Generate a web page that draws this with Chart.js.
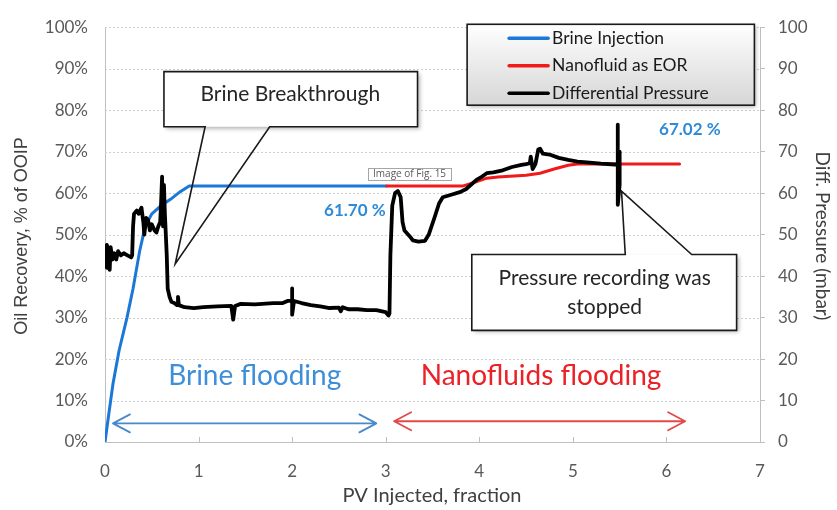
<!DOCTYPE html>
<html>
<head>
<meta charset="utf-8">
<script src="https://cdn.jsdelivr.net/npm/chart.js@4.4.1/dist/chart.umd.min.js"></script>
<style>
  html, body { margin: 0; padding: 0; background: #ffffff; }
  #wrap { width: 837px; height: 510px; }
</style>
</head>
<body>
<div id="wrap"><canvas id="c" width="837" height="510"></canvas></div>
<script>
// Axis ticks
const pvTicks = [0, 1, 2, 3, 4, 5, 6, 7];
const recoveryTicks = [0, 10, 20, 30, 40, 50, 60, 70, 80, 90, 100];
const pressureTicks = [0, 10, 20, 30, 40, 50, 60, 70, 80, 90, 100];

// Series names
const seriesNames = ['Brine Injection', 'Nanofluid as EOR', 'Differential Pressure'];

// Final recoveries (% OOIP) at the end of each stage
const brineFinal = 61.70;
const nanoFinal = 67.02;

// Oil recovery during brine injection (PV injected, % OOIP)
const brinePV = [0, 0.03, 0.085, 0.15, 0.235, 0.3, 0.37, 0.43, 0.5, 0.6, 0.7, 0.8, 0.9, 3.01];
const brineRecovery = [0, 5, 14, 22, 30, 37, 46, 52, 55, 57, 58.5, 60.3, brineFinal, brineFinal];

// Oil recovery during nanofluid injection
const nanoPV = [3.01, 3.82, 3.95, 4.08, 4.2, 4.5, 4.65, 4.8, 4.95, 5.05, 6.14];
const nanoRecovery = [brineFinal, brineFinal, 62.6, 63.6, 63.9, 64.3, 64.8, 65.8, 66.7, nanoFinal, nanoFinal];

// Differential pressure across the core (PV injected, mbar)
const dpPV = [
  0.02, 0.02, 0.04, 0.05, 0.06, 0.08, 0.1, 0.12, 0.14, 0.17, 0.2, 0.24, 0.28, 0.29,
  0.3, 0.31, 0.34, 0.36, 0.39, 0.41, 0.42, 0.44, 0.46, 0.48, 0.5, 0.53, 0.55, 0.57,
  0.59, 0.6, 0.61, 0.62, 0.63, 0.64, 0.65, 0.66, 0.67, 0.69, 0.71, 0.74, 0.77, 0.78,
  0.79, 0.85, 0.95, 1.05, 1.2, 1.35, 1.37, 1.39, 1.45, 1.6, 1.8, 1.9, 1.95, 2.0,
  2.0, 2.0, 2.02, 2.1, 2.2, 2.3, 2.4, 2.5, 2.52, 2.54, 2.6, 2.7, 2.8, 2.9,
  3.0, 3.03, 3.04, 3.05, 3.07, 3.1, 3.13, 3.16, 3.18, 3.2, 3.22, 3.26, 3.29, 3.35,
  3.42, 3.46, 3.52, 3.57, 3.61, 3.7, 3.8, 3.86, 3.92, 3.97, 4.03, 4.08, 4.15, 4.25,
  4.35, 4.45, 4.5, 4.54, 4.55, 4.57, 4.6, 4.63, 4.65, 4.68, 4.75, 4.85, 4.95, 5.05,
  5.15, 5.3, 5.45, 5.48, 5.48, 5.48, 5.5, 5.5, 5.5
];
const dpMbar = [
  42, 47.5, 46, 41.5, 47, 44, 45.5, 44, 46, 45, 45.5, 45, 44.5, 45,
  52, 55, 55.8, 55, 56.5, 53, 50, 54, 53.5, 51, 52.5, 51, 50.5, 52,
  53, 58, 64, 52, 62, 55, 50, 45, 37, 35, 33.8, 33.5, 33, 35,
  33, 32.5, 32.3, 32.5, 32.7, 32.8, 29.5, 32.8, 33.3, 33.2, 33.5, 33.5, 34, 34,
  37, 30.7, 34, 33.5, 33, 32.7, 32.3, 32.4, 31.5, 32.5, 32, 32, 31.8, 31.8,
  31.3, 30.5, 31, 45, 57, 60, 60.5, 59, 53, 51, 50.5, 49.5, 48.6, 48.3,
  48.5, 50, 54, 57.5, 59, 59.6, 60.3, 61, 62.2, 63.2, 64, 64.8, 65, 65.5,
  66.3, 66.8, 67, 67.2, 68.8, 65.8, 67, 70.5, 70.7, 69.5, 69.3, 68.5, 68, 67.6,
  67.4, 67.1, 66.9, 67, 76.5, 57.2, 62, 70, 67
];

const seriesColors = ['#1b78d8', '#f01a1a', '#000000'];

const toPoints = (xs, ys) => xs.map((x, i) => ({ x: x, y: ys[i] }));

const FONT = "Lato, 'Open Sans', 'DejaVu Sans', sans-serif";

// Draws a box with a pointer (outline only for the pointer so the curves stay visible)
function drawCallout(ctx, box, tip, b1, b2, pointerSide) {
  ctx.save();
  ctx.shadowColor = 'rgba(0,0,0,0.28)';
  ctx.shadowBlur = 4;
  ctx.shadowOffsetX = 2;
  ctx.shadowOffsetY = 2;
  ctx.fillStyle = '#ffffff';
  ctx.fillRect(box.l, box.t, box.r - box.l, box.b - box.t);
  ctx.restore();

  ctx.save();
  ctx.strokeStyle = '#1a1a1a';
  ctx.lineWidth = 1.6;
  ctx.lineJoin = 'miter';
  ctx.beginPath();
  if (pointerSide === 'bottom') {
    ctx.moveTo(box.l, box.t);
    ctx.lineTo(box.r, box.t);
    ctx.lineTo(box.r, box.b);
    ctx.lineTo(b2, box.b);
    ctx.lineTo(tip.x, tip.y);
    ctx.lineTo(b1, box.b);
    ctx.lineTo(box.l, box.b);
    ctx.closePath();
  } else {
    ctx.moveTo(box.l, box.t);
    ctx.lineTo(b1, box.t);
    ctx.lineTo(tip.x, tip.y);
    ctx.lineTo(b2, box.t);
    ctx.lineTo(box.r, box.t);
    ctx.lineTo(box.r, box.b);
    ctx.lineTo(box.l, box.b);
    ctx.closePath();
  }
  ctx.stroke();
  ctx.restore();
}

function drawDoubleArrow(ctx, x1, x2, y, color) {
  const head = 17, half = 9;
  ctx.save();
  ctx.strokeStyle = color;
  ctx.lineWidth = 1.8;
  ctx.lineCap = 'round';
  ctx.lineJoin = 'round';
  ctx.beginPath();
  ctx.moveTo(x1, y); ctx.lineTo(x2, y);
  ctx.moveTo(x1 + head, y - half); ctx.lineTo(x1, y); ctx.lineTo(x1 + head, y + half);
  ctx.moveTo(x2 - head, y - half); ctx.lineTo(x2, y); ctx.lineTo(x2 - head, y + half);
  ctx.stroke();
  ctx.restore();
}

// Dotted horizontal gridlines behind the curves
const gridPlugin = {
  id: 'dottedGrid',
  beforeDatasetsDraw(chart) {
    const ctx = chart.ctx;
    const area = chart.chartArea;
    const Y = v => chart.scales.y.getPixelForValue(v);
    ctx.save();
    ctx.strokeStyle = '#cfcfcf';
    ctx.lineWidth = 1;
    ctx.setLineDash([2, 2]);
    recoveryTicks.forEach(t => {
      if (t === recoveryTicks[0]) return;
      const y = Math.round(Y(t)) + 0.5;
      ctx.beginPath();
      ctx.moveTo(area.left, y);
      ctx.lineTo(area.right, y);
      ctx.stroke();
    });
    ctx.restore();
  }
};

const overlayPlugin = {
  id: 'overlay',
  afterDraw(chart) {
    const ctx = chart.ctx;
    const area = chart.chartArea;
    const X = v => chart.scales.x.getPixelForValue(v);
    const Y = v => chart.scales.y.getPixelForValue(v);

    ctx.save();

    // small inward tick marks on the PV axis
    ctx.strokeStyle = '#bfbfbf';
    ctx.lineWidth = 1;
    pvTicks.forEach(t => {
      if (t > pvTicks[0] && t < pvTicks[pvTicks.length - 1]) {
        const x = Math.round(X(t)) + 0.5;
        ctx.beginPath();
        ctx.moveTo(x, area.bottom);
        ctx.lineTo(x, area.bottom - 5);
        ctx.stroke();
      }
    });

    // axis titles
    ctx.fillStyle = '#404040';
    ctx.textAlign = 'center';
    ctx.textBaseline = 'middle';
    ctx.font = "18px 'Liberation Sans', Arial, sans-serif";
    ctx.save();
    ctx.translate(22, 236);
    ctx.rotate(-Math.PI / 2);
    ctx.fillText('Oil Recovery, % of OOIP', 0, 0);
    ctx.restore();

    ctx.font = '19px ' + FONT;
    ctx.save();
    ctx.translate(822, 236);
    ctx.rotate(Math.PI / 2);
    ctx.fillText('Diff. Pressure (mbar)', 0, 0);
    ctx.restore();

    ctx.font = '20px ' + FONT;
    ctx.fillText('PV Injected, fraction', 432, 496);

    // stage arrows and labels
    drawDoubleArrow(ctx, X(0.085), X(2.9), Y(4.5), '#4a88cc');
    drawDoubleArrow(ctx, X(3.09), X(6.2), Y(5), '#e24a4a');

    ctx.font = '28px ' + FONT;
    ctx.fillStyle = '#3d8fd9';
    ctx.fillText('Brine flooding', X(1.6), Y(16));
    ctx.fillStyle = '#ec2027';
    ctx.fillText('Nanofluids flooding', X(4.66), Y(16));

    // final recovery labels
    ctx.font = 'bold 17px ' + FONT;
    ctx.fillStyle = '#2f8ad8';
    ctx.fillText(brineFinal.toFixed(2) + ' %', X(2.67), Y(brineFinal - 5.9));
    ctx.fillText(nanoFinal.toFixed(2) + ' %', X(6.25), Y(nanoFinal + 8.3));

    // "Brine Breakthrough" callout
    drawCallout(ctx,
      { l: X(0.63), t: Y(89.3), r: X(3.34), b: Y(76) },
      { x: X(0.75), y: Y(42.9) }, X(1.07), X(1.76), 'bottom');
    ctx.fillStyle = '#262626';
    ctx.font = '21px ' + FONT;
    ctx.fillText('Brine Breakthrough', X(1.98), Y(83.8));

    // "Pressure recording was stopped" callout
    drawCallout(ctx,
      { l: X(3.92), t: Y(45.2), r: X(6.75), b: Y(26.9) },
      { x: X(5.52), y: Y(60.5) }, X(5.56), X(6.27), 'top');
    ctx.fillStyle = '#262626';
    ctx.fillText('Pressure recording was', X(5.34), Y(39.5));
    ctx.fillText('stopped', X(5.34), Y(32.6));

    // small caption tag
    ctx.save();
    const tl = X(2.81), tt = Y(66.1), tr = X(3.7), tb = Y(63.3);
    ctx.fillStyle = '#ffffff';
    ctx.fillRect(tl, tt, tr - tl, tb - tt);
    ctx.strokeStyle = '#a6a6a6';
    ctx.lineWidth = 1;
    ctx.strokeRect(Math.round(tl) + 0.5, Math.round(tt) + 0.5, Math.round(tr - tl), Math.round(tb - tt));
    ctx.fillStyle = '#595959';
    ctx.font = "10px 'Open Sans', sans-serif";
    ctx.fillText('Image of Fig. 15', (tl + tr) / 2, (tt + tb) / 2 + 0.5);
    ctx.restore();

    // legend
    const lg = { l: X(3.87), t: Y(100.7), r: X(6.94), b: Y(81.2) };
    ctx.save();
    ctx.shadowColor = 'rgba(0,0,0,0.3)';
    ctx.shadowBlur = 4;
    ctx.shadowOffsetX = 2;
    ctx.shadowOffsetY = 2;
    const grad = ctx.createLinearGradient(0, lg.t, 0, lg.b);
    grad.addColorStop(0, '#ffffff');
    grad.addColorStop(1, '#d6d6d6');
    ctx.fillStyle = grad;
    ctx.fillRect(lg.l, lg.t, lg.r - lg.l, lg.b - lg.t);
    ctx.restore();
    ctx.strokeStyle = '#1a1a1a';
    ctx.lineWidth = 1.6;
    ctx.strokeRect(lg.l, lg.t, lg.r - lg.l, lg.b - lg.t);

    ctx.textAlign = 'left';
    ctx.font = '17.5px ' + FONT;
    chart.data.datasets.forEach((ds, i) => {
      const y = lg.t + 14 + i * 27.5;
      ctx.strokeStyle = ds.borderColor;
      ctx.lineWidth = 3.5;
      ctx.lineCap = 'round';
      ctx.beginPath();
      ctx.moveTo(lg.l + 42, y);
      ctx.lineTo(lg.l + 81, y);
      ctx.stroke();
      ctx.fillStyle = '#1a1a1a';
      ctx.fillText(ds.label, lg.l + 85, y);
    });

    ctx.restore();
  }
};

new Chart(document.getElementById('c'), {
  type: 'line',
  data: {
    datasets: [
      {
        label: seriesNames[0],
        data: toPoints(brinePV, brineRecovery),
        borderColor: seriesColors[0],
        borderWidth: 3,
        yAxisID: 'y',
        order: 2
      },
      {
        label: seriesNames[1],
        data: toPoints(nanoPV, nanoRecovery),
        borderColor: seriesColors[1],
        borderWidth: 3,
        yAxisID: 'y',
        order: 1
      },
      {
        label: seriesNames[2],
        data: toPoints(dpPV, dpMbar),
        borderColor: seriesColors[2],
        borderWidth: 3.8,
        borderJoinStyle: 'round',
        yAxisID: 'y1',
        order: 0
      }
    ]
  },
  options: {
    responsive: false,
    animation: false,
    devicePixelRatio: 1,
    elements: {
      point: { radius: 0, hoverRadius: 0 },
      line: { tension: 0, fill: false, borderCapStyle: 'round' }
    },
    layout: { padding: { top: 21, left: 0, right: 0, bottom: 0 } },
    plugins: {
      legend: { display: false },
      tooltip: { enabled: false },
      title: { display: false }
    },
    scales: {
      x: {
        type: 'linear',
        min: pvTicks[0],
        max: pvTicks[pvTicks.length - 1],
        afterBuildTicks: s => { s.ticks = pvTicks.map(v => ({ value: v })); },
        afterFit: s => { s.height = 68; },
        grid: { display: false, drawTicks: false },
        border: { display: true, color: '#bfbfbf', width: 1 },
        ticks: { padding: 19, color: '#595959', font: { family: FONT, size: 17 } }
      },
      y: {
        type: 'linear',
        position: 'left',
        min: recoveryTicks[0],
        max: recoveryTicks[recoveryTicks.length - 1],
        afterBuildTicks: s => { s.ticks = recoveryTicks.map(v => ({ value: v })); },
        afterFit: s => { s.width = 105; },
        grid: { display: false, drawTicks: false },
        border: { display: true, color: '#bfbfbf', width: 1 },
        ticks: {
          padding: 17,
          color: '#595959',
          font: { family: FONT, size: 17 },
          callback: v => v + '%'
        }
      },
      y1: {
        type: 'linear',
        position: 'right',
        min: pressureTicks[0],
        max: pressureTicks[pressureTicks.length - 1],
        afterBuildTicks: s => { s.ticks = pressureTicks.map(v => ({ value: v })); },
        afterFit: s => { s.width = 77; },
        grid: { drawOnChartArea: false, drawTicks: true, tickLength: 5, color: '#bfbfbf' },
        border: { display: true, color: '#bfbfbf', width: 1 },
        ticks: { padding: 13, color: '#595959', font: { family: FONT, size: 17 } }
      }
    }
  },
  plugins: [gridPlugin, overlayPlugin]
});
</script>
</body>
</html>
